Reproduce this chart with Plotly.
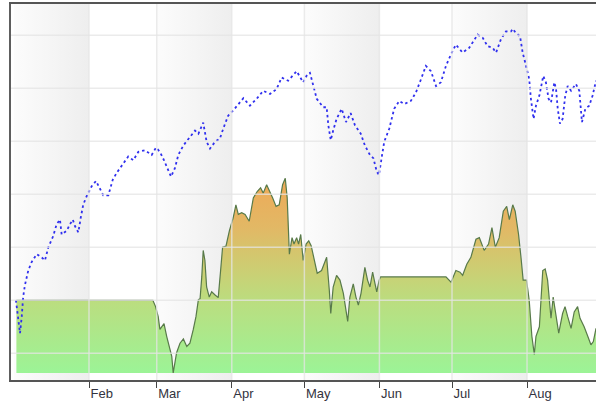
import pandas as pd
import plotly.graph_objects as go

# ---------------- data ----------------
BASE_DATE = "2010-01-01"
MONTH_STARTS = ["2010-01-01", "2010-02-01", "2010-03-01", "2010-04-01",
                "2010-05-01", "2010-06-01", "2010-07-01", "2010-08-01"]
MONTH_LABELS = ["Jan", "Feb", "Mar", "Apr", "May", "Jun", "Jul", "Aug"]
SHADED_MONTHS = ["Jan", "Mar", "May", "Jul"]
X_RANGE = ["2009-12-30 18:30", "2010-08-29 12:00"]
Y_RANGE = [4.96, 75.87]
GRID_Y = [10, 20, 30, 40, 50, 60, 70]
AREA_BASE = 6.3

# area series (day offset from Jan 1, value)
AREA_DAY = [1, 57.4, 58.5, 59.6, 60.3, 61.4, 62.0, 63.1, 64.2, 65.2, 65.8, 66.5, 67.2,
            68.6, 70.0, 71.4, 72.7, 74.1, 75.2, 76.2, 76.9, 77.6, 78.2, 78.9, 79.6,
            80.7, 81.7, 83.1, 84.4, 85.4, 86.2, 87.6, 89.0, 90.6, 91.7, 92.7, 94.1,
            95.5, 97.2, 98.9, 100.5, 101.9, 103.0, 104.4, 105.8, 106.9, 108.3, 109.6,
            111.0, 112.1, 112.9, 113.5, 113.8, 114.9, 115.7, 116.8, 117.6, 118.5,
            119.5, 120.7, 121.8, 122.8, 124.4, 125.3, 127.1, 129.2, 130.3, 130.9,
            131.9, 133.3, 134.7, 136.1, 137.9, 138.8, 140.2, 141.3, 142.3, 143.4,
            145.0, 146.1, 147.1, 148.2, 149.2, 149.9, 150.9, 151.5, 178.5, 180.6,
            182.6, 184.3, 185.4, 187.1, 188.8, 190.9, 192.3, 194.3, 196.1, 197.5,
            198.9, 200.5, 202.2, 203.6, 204.7, 206.1, 207.1, 208.5, 209.5, 210.4,
            211.8, 212.9, 214.0, 215.0, 215.7, 217.1, 218.5, 219.5, 220.5, 221.9,
            222.8, 223.7, 225.1, 226.7, 227.7, 228.8, 230.2, 231.5, 232.9, 233.9,
            235.6, 237.1, 238.4, 239.4, 240.5]
AREA_VAL = [20.0, 20.0, 18.8, 16.9, 14.5, 15.4, 15.6, 13.2, 11.3, 9.4, 6.3, 8.2, 10.1,
            11.9, 12.7, 11.3, 11.9, 14.5, 16.9, 20.1, 20.3, 24.4, 29.4, 27.5, 22.5,
            20.6, 21.6, 21.0, 20.5, 25.7, 30.0, 30.2, 33.1, 35.6, 38.0, 36.2, 36.5,
            36.2, 34.9, 39.3, 40.5, 41.2, 40.2, 41.8, 40.5, 39.3, 37.7, 38.0,
            41.8, 43.0, 39.3, 30.6, 28.7, 31.8, 30.6, 31.8, 30.6, 32.4,
            27.5, 30.6, 31.2, 30.3, 26.9, 25.1, 25.6, 28.1, 21.9, 17.5,
            22.5, 24.7, 23.8, 21.3, 16.0, 20.6, 23.1, 20.6, 19.1, 21.3,
            26.2, 23.8, 22.5, 25.3, 23.1, 21.6, 23.8, 24.4, 24.4, 23.4,
            25.6, 25.3, 24.7, 26.8, 28.1, 31.5, 31.8, 29.4, 30.6, 33.7,
            30.0, 31.8, 36.8, 37.7, 35.2, 38.0, 36.8, 32.4, 28.1, 23.8,
            23.8, 20.0, 13.2, 9.8, 13.2, 15.0, 25.6, 25.9, 23.8, 16.6,
            20.6, 18.2, 13.8, 17.5, 18.8, 16.9, 14.7, 17.8, 18.8, 16.6,
            15.0, 13.2, 11.6, 12.2, 14.7]

# dotted line series (day offset from Jan 1, value)
LINE_DAY = [0.8, 1.8, 2.5, 3.2, 3.8, 4.5, 5.9, 7.3, 9.4, 11.4, 12.8, 14.2, 16.2, 17.6,
            19.0, 19.7, 21.8, 23.1, 24.3, 25.2, 26.6, 27.6, 28.6, 30.0, 32.1, 33.9,
            35.5, 36.9, 39.0, 40.8, 42.4, 45.2, 47.2, 49.3, 51.4, 54.1, 56.9, 58.7,
            60.3, 62.0, 63.8, 64.9, 66.5, 67.9, 70.0, 72.7, 74.8, 76.2, 78.2, 79.6,
            81.0, 83.1, 85.1, 86.5, 88.5, 90.6, 92.7, 94.8, 97.5, 100.3, 103.0, 105.8,
            108.5, 110.6, 113.3, 116.8, 119.5, 121.2, 122.3, 123.7, 125.1, 127.8,
            129.2, 129.9, 130.9, 131.9, 133.3, 135.4, 137.2, 139.1, 140.9, 143.3,
            145.0, 147.1, 148.5, 149.9, 150.8, 151.9, 153.0, 155.1, 157.1, 159.2,
            161.3, 164.0, 166.1, 168.2, 170.2, 172.3, 174.4, 176.4, 178.5, 180.6,
            182.6, 185.4, 188.1, 191.6, 193.7, 195.7, 197.8, 199.2, 201.2, 203.3,
            205.4, 206.1, 207.4, 209.1, 210.2, 211.6, 212.9, 213.6, 214.7, 215.7,
            217.1, 218.7, 219.8, 220.9, 221.9, 223.3, 224.0, 224.7, 225.6, 226.7,
            227.8, 228.8, 230.2, 232.2, 233.6, 234.7, 236.1, 237.7, 239.1, 240.5]
LINE_VAL = [20.0, 16.9, 13.8, 16.9, 20.6, 22.8, 25.6, 27.2, 28.7, 28.1, 27.5, 30.0, 32.1, 34.3,
            35.2, 32.4, 33.1, 34.3, 35.2, 34.0, 32.8, 35.6, 38.0, 39.6, 41.5, 42.5,
            41.2, 39.8, 39.8, 42.7, 44.0, 45.8, 47.1, 46.4, 48.0, 48.3, 47.4, 48.8,
            48.0, 46.4, 44.3, 43.3, 44.9, 47.4, 49.2, 50.8, 52.0, 51.4, 53.5, 49.9,
            48.6, 49.9, 50.5, 52.4, 54.8, 55.8, 57.0, 58.1, 56.7, 58.0, 59.5, 58.9,
            59.8, 62.0, 61.4, 63.2, 61.1, 62.6, 62.9, 60.4, 58.0, 56.4,
            56.4, 53.0, 50.2, 52.0, 54.2, 56.1, 53.6, 55.3, 53.0, 51.4,
            49.2, 47.4, 46.8, 44.3, 43.6, 46.8, 49.9, 52.4, 56.1, 57.6,
            57.0, 57.6, 59.2, 61.7, 64.2, 63.2, 60.4, 61.1, 64.2, 66.4,
            68.2, 66.7, 67.6, 70.1, 69.5, 67.9, 67.6, 66.7, 69.2, 70.7,
            70.7, 71.2, 70.4, 69.8, 66.7, 64.2, 61.7, 58.0, 54.2, 56.7,
            58.6, 62.3, 61.1, 58.0, 57.3, 61.1, 59.8, 56.1, 53.3, 54.2,
            58.6, 60.4, 59.5, 60.8, 59.5, 53.6, 56.1, 56.7, 58.6, 61.4]

# ---------------- figure ----------------
base = pd.Timestamp(BASE_DATE)
area_x = [base + pd.Timedelta(days=d) for d in AREA_DAY]
line_x = [base + pd.Timedelta(days=d) for d in LINE_DAY]
month_ts = [pd.Timestamp(m) for m in MONTH_STARTS]
month_ends = month_ts[1:] + [pd.Timestamp(X_RANGE[1])]

fig = go.Figure()

# alternating month bands with horizontal gradient
for lab, m0, m1 in zip(MONTH_LABELS, month_ts, month_ends):
    if lab not in SHADED_MONTHS:
        continue
    a = max(m0, pd.Timestamp(X_RANGE[0]))
    fig.add_trace(go.Scatter(
        x=[a, m1, m1, a, a],
        y=[Y_RANGE[0], Y_RANGE[0], Y_RANGE[1], Y_RANGE[1], Y_RANGE[0]],
        mode="lines", fill="toself", line=dict(width=0, color="rgba(0,0,0,0)"),
        fillgradient=dict(type="horizontal",
                          colorscale=[[0, "#fcfcfc"], [1, "#eeeeee"]]),
        hoverinfo="skip", showlegend=False))

# area baseline + area
fig.add_trace(go.Scatter(x=area_x, y=[AREA_BASE] * len(area_x), mode="lines",
                         line=dict(width=0, color="rgba(0,0,0,0)"),
                         hoverinfo="skip", showlegend=False))
fig.add_trace(go.Scatter(
    x=area_x, y=AREA_VAL, mode="lines", fill="tonexty",
    line=dict(color="#587a4a", width=1.2),
    fillgradient=dict(type="vertical", start=AREA_BASE, stop=43.5,
                      colorscale=[[0, "#9af598"], [0.37, "#bade80"],
                                  [0.55, "#cdcd72"], [0.75, "#e2b865"],
                                  [1, "#efa957"]]),
    showlegend=False))

# dotted line
fig.add_trace(go.Scatter(x=line_x, y=LINE_VAL, mode="lines",
                         line=dict(color="#3030ee", width=1.8, dash="2.5px,3px"),
                         showlegend=False))

# gridlines drawn above the data
shapes = []
for gy in GRID_Y:
    shapes.append(dict(type="line", xref="paper", x0=0, x1=1, yref="y", y0=gy, y1=gy,
                       line=dict(color="rgba(228,228,228,0.75)", width=1.5), layer="above"))
for m in month_ts[1:]:
    shapes.append(dict(type="line", xref="x", x0=m, x1=m, yref="paper", y0=0, y1=1,
                       line=dict(color="rgba(228,228,228,0.75)", width=1.5), layer="above"))

fig.update_layout(
    width=596, height=401,
    margin=dict(l=11, r=0, t=4, b=17),
    paper_bgcolor="white", plot_bgcolor="white",
    shapes=shapes,
    xaxis=dict(type="date", range=X_RANGE, showgrid=False, zeroline=False,
               showline=True, mirror=True, linecolor="#555555", linewidth=2,
               ticks="outside", ticklen=6, tickcolor="#444", tickwidth=1,
               tickvals=month_ts[1:], ticktext=MONTH_LABELS[1:],
               ticklabelposition="outside right",
               tickfont=dict(family="Arial, Liberation Sans, sans-serif", size=13, color="#333340")),
    yaxis=dict(range=Y_RANGE, showgrid=False, zeroline=False, showticklabels=False,
               showline=True, linecolor="#5e5e5e", linewidth=2, ticks=""),
)

fig.write_html("out.html", config={"displayModeBar": False},
               post_script="document.body.style.margin='0px';")
